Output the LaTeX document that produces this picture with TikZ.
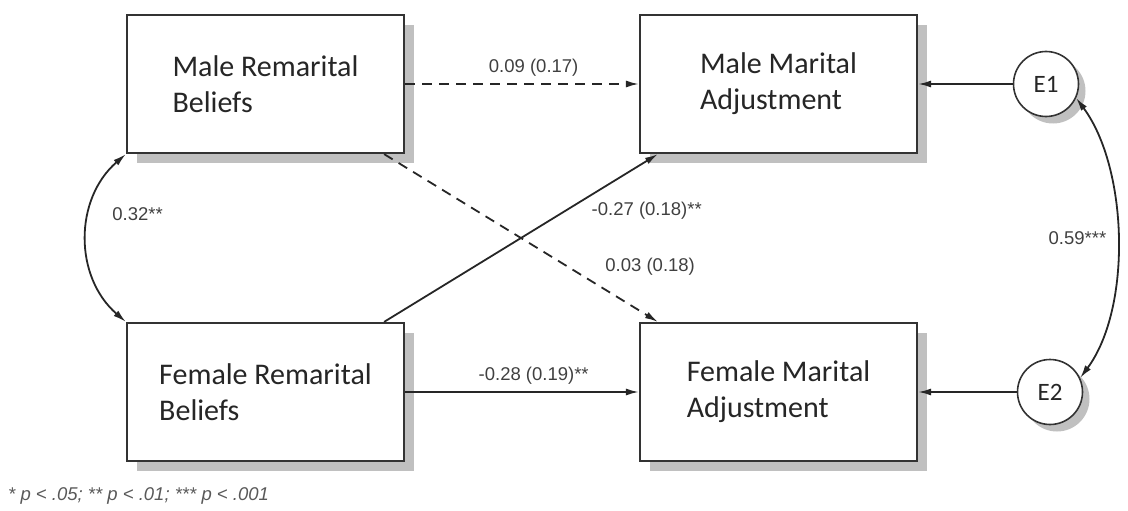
\documentclass[tikz,border=0pt]{standalone}
\usepackage{fontspec}
\setmainfont{Carlito}
\newfontfamily\coeffont{Liberation Sans}
\usetikzlibrary{arrows.meta,shadows}
\definecolor{boxline}{HTML}{333333}
\definecolor{shadowgray}{HTML}{C0C0C0}
\tikzset{
	var/.style={draw=boxline, line width=2.2pt, fill=white, minimum width=277pt, minimum height=138pt,
		align=left, font=\fontsize{30}{36}\selectfont, text=black!85,
		drop shadow={shadow xshift=10pt, shadow yshift=-10pt, fill=shadowgray, opacity=1}},
	err/.style={circle, draw=boxline, line width=1.6pt, fill=white, minimum size=65pt, inner sep=0pt,
		font=\fontsize{25}{28}\selectfont, text=black!85,
		drop shadow={shadow xshift=7pt, shadow yshift=-7pt, fill=shadowgray, opacity=1}},
	reg/.style={line width=1.8pt, draw=black!85, -{Latex[length=13pt,width=7pt]}},
	nsreg/.style={reg, dash pattern=on 10pt off 7pt},
	cov/.style={line width=1.8pt, draw=black!85, {Latex[length=13pt,width=7pt]}-{Latex[length=13pt,width=7pt]}},
	coef/.style={font=\coeffont\fontsize{18.5}{20}\selectfont, text=black!75, inner sep=2pt}
}
\begin{document}
\begin{tikzpicture}[x=1pt,y=-1pt]
	\useasboundingbox (0,0) rectangle (1128,511);
	% observed variables
	\node[var] (mrb) at (265.5,84) {Male Remarital\\Beliefs};
	\node[var] (mma) at (778.5,84) {Male Marital\\Adjustment};
	\node[var] (frb) at (265.5,392) {Female Remarital\\Beliefs};
	\node[var] (fma) at (778.5,392) {Female Marital\\Adjustment};
	% residuals
	\node[err] (e1) at (1046,84) {E1};
	\node[err] (e2) at (1050,392) {E2};

	\draw[nsreg] (mrb) -- (mma) node[coef, pos=0.55, above=5pt] (c1) {0.09 (0.17)};
	\draw[nsreg] ([xshift=-21pt]mrb.south east) -- ([xshift=19pt]fma.north west)
		node[coef, pos=0.67, anchor=west, xshift=35pt] (c3) {0.03 (0.18)};
	\draw[reg] ([xshift=-21pt]frb.north east) -- ([xshift=19pt]mma.south west)
		node[coef, pos=0.66, anchor=west, xshift=24pt] (c2) {-0.27 (0.18)**};
	\draw[reg] (frb) -- (fma) node[coef, pos=0.55, above=5pt] (c4) {-0.28 (0.19)**};

	\draw[reg] (e1) -- (mma);
	\draw[reg] (e2) -- (fma);

	% covariances
	\draw[cov] (mrb.south west) .. controls +(-52,45) and +(-52,-45) .. (frb.north west)
		node[coef, pos=0.37, anchor=west, xshift=20pt] (c5) {0.32**};
	\draw[cov] (e1.-25) .. controls +(52,70) and +(52,-70) .. (e2.25)
		node[coef, pos=0.5, anchor=east, xshift=-8pt] (c6) {0.59***};

	\node[coef, anchor=west, text=black!65] (note) at (6,496) {\itshape * p < .05; ** p < .01; *** p < .001};
\end{tikzpicture}
\end{document}
